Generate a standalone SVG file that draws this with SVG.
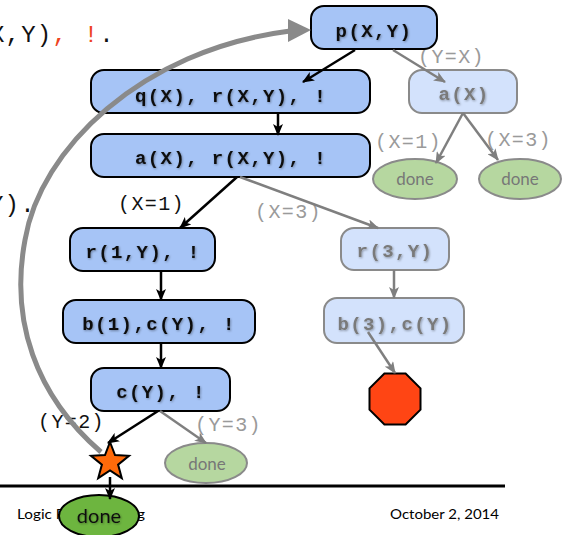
<svg xmlns="http://www.w3.org/2000/svg" width="570" height="535" viewBox="0 0 570 535">
<defs>
<filter id="sh" x="-10%" y="-30%" width="120%" height="160%">
<feDropShadow dx="0.8" dy="1" stdDeviation="0.9" flood-color="#000" flood-opacity="0.35"/>
</filter>
<marker id="ab" viewBox="0 0 12 10" refX="11" refY="5" markerWidth="12" markerHeight="10" markerUnits="userSpaceOnUse" orient="auto">
<path d="M0,0 L12,5 L0,10 L3,5 z" fill="#000"/>
</marker>
<marker id="ag" viewBox="0 0 12 10" refX="11" refY="5" markerWidth="12" markerHeight="10" markerUnits="userSpaceOnUse" orient="auto">
<path d="M0,0 L12,5 L0,10 L3,5 z" fill="#7f7f7f"/>
</marker>
</defs>
<style>
.code{font-family:"Liberation Mono","Courier New",monospace;}
.big{font-size:24px;letter-spacing:1.2px;}
.lab{font-size:20px;letter-spacing:1.4px;}
.nb{fill:#a6c4f6;stroke:#000;stroke-width:2;}
.nl{fill:#d3e2fc;stroke:#8a8a8a;stroke-width:2;}
.nt{font-family:"Liberation Mono","Courier New",monospace;font-weight:bold;font-size:19px;letter-spacing:1.4px;text-anchor:middle;fill:#111;filter:url(#sh);}
.ntl{fill:#7a7a7a;}
.done{font-family:Lato,"Open Sans",sans-serif;text-anchor:middle;}
.eg{fill:#b6d7a0;stroke:#8a8a8a;stroke-width:2;}
.cb{stroke:#000;stroke-width:2.5;fill:none;marker-end:url(#ab);}
.cg{stroke:#7f7f7f;stroke-width:2.5;fill:none;marker-end:url(#ag);}
.foot{font-family:Lato,"Open Sans",sans-serif;font-size:14px;fill:#000;}
</style>
<rect width="570" height="535" fill="#fff"/>

<g id="code-text">
<text class="code big" x="-10" y="42" fill="#111">X,Y)<tspan fill="#ee4422">, !</tspan>.</text>
<text class="code big" x="-11" y="212" fill="#111">Y).</text>
</g>

<g id="rule-line"><line x1="0" y1="486" x2="505" y2="486" stroke="#000" stroke-width="3"/></g>

<g id="footer">
<text class="foot" x="17" y="519" textLength="128" lengthAdjust="spacingAndGlyphs">Logic Programming</text>
<text class="foot" x="390" y="519" textLength="109" lengthAdjust="spacingAndGlyphs">October 2, 2014</text>
</g>

<g id="labels">
<text class="code lab" x="418" y="63" fill="#9a9a9a">(Y=X)</text>
<text class="code lab" x="375" y="148" fill="#9a9a9a">(X=1)</text>
<text class="code lab" x="485" y="146" fill="#9a9a9a">(X=3)</text>
<text class="code lab" x="118" y="210" fill="#111">(X=1)</text>
<text class="code lab" x="255" y="218" fill="#9a9a9a">(X=3)</text>
<text class="code lab" x="38" y="428" fill="#111">(Y=2)</text>
<text class="code lab" x="195" y="431" fill="#9a9a9a">(Y=3)</text>
</g>

<g id="n-p"><rect class="nb" x="311" y="6" width="126" height="43" rx="13"/><text class="nt" x="374" y="37">p(X,Y)</text></g>
<g id="n-q"><rect class="nb" x="91" y="70" width="279" height="43" rx="13"/><text class="nt" x="231" y="102">q(X), r(X,Y), !</text></g>
<g id="n-a1"><rect class="nb" x="91" y="134" width="279" height="43" rx="13"/><text class="nt" x="231" y="164">a(X), r(X,Y), !</text></g>
<g id="n-r1"><rect class="nb" x="70" y="228" width="145" height="43" rx="13"/><text class="nt" x="143" y="258">r(1,Y), !</text></g>
<g id="n-b1"><rect class="nb" x="63" y="300" width="192" height="43" rx="13"/><text class="nt" x="159" y="330">b(1),c(Y), !</text></g>
<g id="n-c"><rect class="nb" x="91" y="368" width="139" height="43" rx="13"/><text class="nt" x="161" y="398">c(Y), !</text></g>
<g id="n-aX"><rect class="nl" x="409" y="70" width="108" height="43" rx="13"/><text class="nt ntl" x="464" y="100">a(X)</text></g>
<g id="n-r3"><rect class="nl" x="341" y="228" width="108" height="42" rx="13"/><text class="nt ntl" x="395" y="257">r(3,Y)</text></g>
<g id="n-b3"><rect class="nl" x="324" y="298" width="140" height="45" rx="13"/><text class="nt ntl" x="395" y="330">b(3),c(Y)</text></g>
<g id="n-done1"><ellipse class="eg" cx="415" cy="179" rx="42" ry="20"/><text class="done" x="415" y="185" font-size="17" fill="#777">done</text></g>
<g id="n-done2"><ellipse class="eg" cx="520" cy="179" rx="41" ry="20"/><text class="done" x="520" y="185" font-size="17" fill="#777">done</text></g>
<g id="n-done3"><ellipse class="eg" cx="206" cy="463" rx="41" ry="20"/><text class="done" x="207" y="470" font-size="17" fill="#777">done</text></g>
<g id="n-fail"><polygon points="384.4,373.5 405.6,373.5 420.5,388.4 420.5,409.6 405.6,424.5 384.4,424.5 369.5,409.6 369.5,388.4" fill="#ff4514" stroke="#000" stroke-width="2"/></g>
<g id="n-star"><polygon points="110,442 115,455.1 129,455.8 118.1,464.6 121.8,478.2 110,470.5 98.2,478.2 101.9,464.6 91,455.8 105,455.1" fill="#ff6a0a" stroke="#000" stroke-width="2" stroke-linejoin="miter"/></g>
<g id="n-done"><ellipse cx="99" cy="516" rx="40" ry="21" fill="#6db53f" stroke="#000" stroke-width="2"/><text class="done" x="99" y="523" font-size="20" fill="#111" filter="url(#sh)">done</text></g>

<g id="connectors">
<line class="cb" x1="355" y1="50" x2="303" y2="82"/>
<line class="cg" x1="393" y1="50" x2="445" y2="82"/>
<line class="cb" x1="278" y1="113" x2="278" y2="135"/>
<line class="cb" x1="237" y1="177" x2="180" y2="228"/>
<line class="cg" x1="240" y1="177" x2="378" y2="228"/>
<line class="cb" x1="161" y1="271" x2="161" y2="300"/>
<line class="cb" x1="161" y1="343" x2="161" y2="368"/>
<line class="cb" x1="158" y1="411" x2="108" y2="443"/>
<line class="cg" x1="160" y1="411" x2="206" y2="443"/>
<line class="cb" x1="110" y1="477" x2="110" y2="499"/>
<line class="cg" x1="463" y1="113" x2="436" y2="163"/>
<line class="cg" x1="463" y1="113" x2="498" y2="160"/>
<line class="cg" x1="394" y1="270" x2="394" y2="298"/>
<line class="cg" x1="368" y1="332" x2="395" y2="373"/>
<path d="M101,452 C35,395 10,320 25,240 C40,150 140,50 290,31" stroke="#8a8a8a" stroke-width="5" fill="none"/>
<polygon points="288,19 311,30 288,42" fill="#8a8a8a"/>
</g>
</svg>
